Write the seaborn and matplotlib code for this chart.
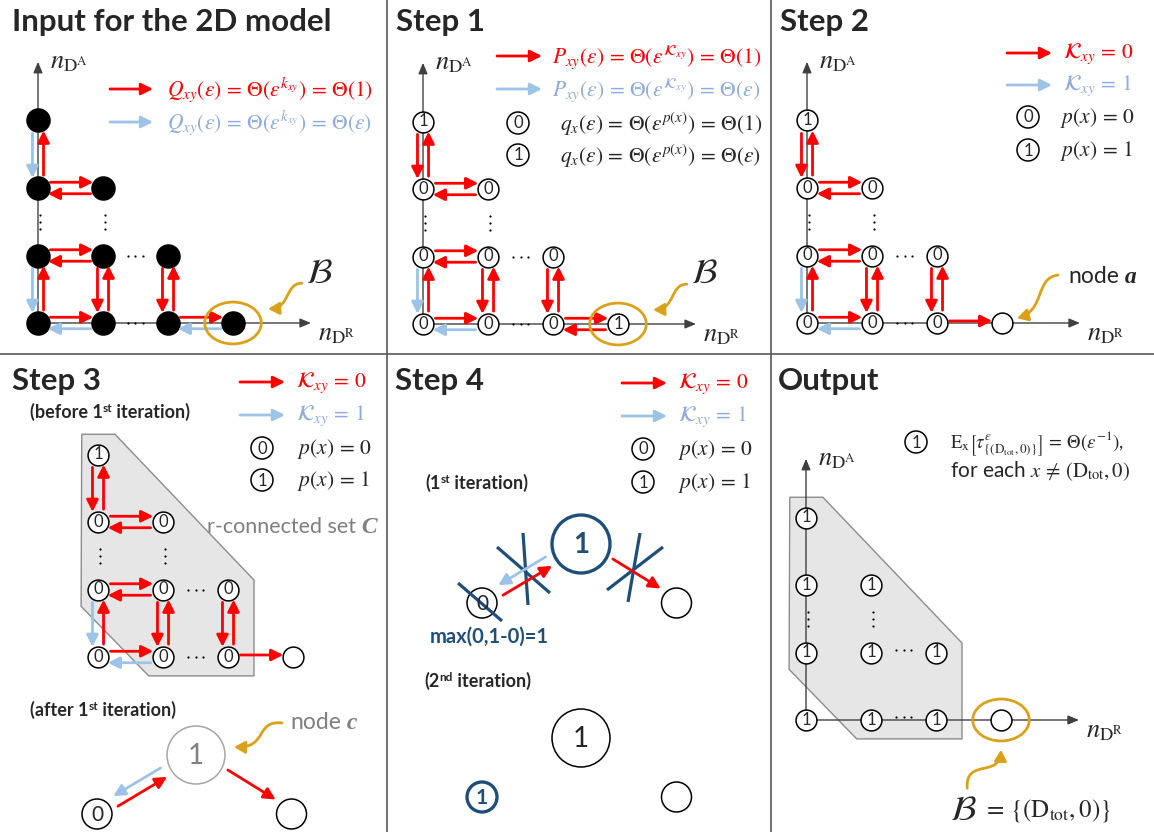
import numpy as np
import pandas as pd
import matplotlib
matplotlib.use("Agg")
import matplotlib.pyplot as plt
import seaborn as sns
from matplotlib.patches import Ellipse, Polygon, Circle, FancyArrowPatch
from matplotlib.path import Path

# ---------------- data ----------------
node_col = [0, 0, 1, 0, 1, 2, 0, 1, 2, 3]
node_row = [3, 2, 2, 1, 1, 1, 0, 0, 0, 0]
labels_step1 = ["1", "0", "0", "0", "0", "0", "0", "0", "0", "1"]
labels_step2 = ["1", "0", "0", "0", "0", "0", "0", "0", "0", ""]
labels_output = ["1", "1", "1", "1", "1", "1", "1", "1", "1", ""]

edge_from = [(0, 3), (0, 2), (0, 1), (0, 1), (1, 1), (2, 1), (0, 0), (2, 0)]
edge_to = [(0, 2), (1, 2), (1, 1), (0, 0), (1, 0), (2, 0), (1, 0), (3, 0)]
fwd_input = ["b", "r", "r", "b", "r", "r", "r", "r"]
bwd_input = ["r", "r", "r", "r", "r", "r", "b", "b"]
fwd_step1 = ["r", "r", "r", "b", "r", "r", "r", "r"]
bwd_step1 = ["r", "r", "r", "r", "r", "r", "b", "r"]
fwd_step2 = ["r", "r", "r", "b", "r", "r", "r", "r"]
bwd_step2 = ["r", "r", "r", "r", "r", "r", "b", None]

vdots_cols = [0, 1]
hdots_rows = [1, 0]

set_poly_col = [-0.25, 0.26, 2.4, 2.4, 0.78, -0.26]
set_poly_row = [3.3, 3.3, 1.14, -0.28, -0.28, 0.75]

panel_titles = ["Input for the 2D model", "Step 1", "Step 2", "Step 3", "Step 4", "Output"]

Q_red = r"$Q_{xy}(\varepsilon)\,=\,\Theta\left(\varepsilon^{k_{xy}}\right)\,=\,\Theta(1)$"
Q_blue = r"$Q_{xy}(\varepsilon)\,=\,\Theta\left(\varepsilon^{k_{xy}}\right)\,=\,\Theta(\varepsilon)$"
P_red = r"$P_{xy}(\varepsilon)\,=\,\Theta\left(\varepsilon^{\mathcal{K}_{xy}}\right)\,=\,\Theta(1)$"
P_blue = r"$P_{xy}(\varepsilon)\,=\,\Theta\left(\varepsilon^{\mathcal{K}_{xy}}\right)\,=\,\Theta(\varepsilon)$"
q0_txt = r"$q_x(\varepsilon)\,=\,\Theta(\varepsilon^{p(x)})\,=\,\Theta(1)$"
q1_txt = r"$q_x(\varepsilon)\,=\,\Theta(\varepsilon^{p(x)})\,=\,\Theta(\varepsilon)$"
K0_txt = r"$\mathcal{K}_{xy}\,=\,0$"
K1_txt = r"$\mathcal{K}_{xy}\,=\,1$"
p0_txt = r"$p(x)\,=\,0$"
p1_txt = r"$p(x)\,=\,1$"
E_txt = r"$\mathrm{E}_{\mathrm{x}}\left[\tau^{\varepsilon}_{\{(\mathrm{D}_{\mathrm{tot}},0)\}}\right]\,=\,\Theta(\varepsilon^{-1})$,"
foreach_txt = r"for each $x\,\neq\,(\mathrm{D}_{\mathrm{tot}},0)$"
Bset_txt = r"$=\,\{(\mathrm{D}_{\mathrm{tot}},0)\}$"
max_txt = "max(0,1-0)=1"

# ---------------- style ----------------
sns.set_theme(style="white")
plt.rcParams["font.family"] = ["Lato", "DejaVu Sans"]
plt.rcParams["mathtext.fontset"] = "stix"

RED = "#FF0000"
BLUE = "#9DC3E6"
BLUE_TXT = "#8FAADC"
GOLD = "#DAA21A"
NAVY = "#1F4E79"
GRAYTXT = "#7F7F7F"
COL = {"r": RED, "b": BLUE}
ARROW = "-|>,head_length=0.5,head_width=0.25"
LEG_FS = 15.5
SUB_FS = 13

W, H = 1154, 832
fig = plt.figure(figsize=(W / 100, H / 100), dpi=100, facecolor="white")
ax0 = fig.add_axes([0, 0, 1, 1])
ax0.set_xlim(0, W)
ax0.set_ylim(H, 0)
ax0.axis("off")
ax0.set_zorder(10)
ax0.patch.set_visible(False)
renderer = fig.canvas.get_renderer()

# dividers
ax0.plot([0, W], [354, 354], color="#595959", lw=1.2)
ax0.plot([387, 387], [0, H], color="#595959", lw=1.2)
ax0.plot([771, 771], [0, H], color="#595959", lw=1.2)

# titles
title_x = [12, 396, 780, 12, 395, 778]
title_y = [31, 31, 31, 390, 390, 390]
for t, x, y in zip(panel_titles, title_x, title_y):
    ax0.text(x, y, t, fontsize=22.5, fontweight="bold", va="baseline", ha="left")


def rich(x, y, pieces):
    for s, kw in pieces:
        kw = dict(kw)
        dy = kw.pop("dy", 0)
        t = ax0.text(x, y + dy, s, va="baseline", ha="left", **kw)
        x += t.get_window_extent(renderer).width


def arrow_legend(x0, x1, xt, y, color, tcolor, label, fs=LEG_FS):
    ax0.annotate("", xy=(x1, y), xytext=(x0, y),
                 arrowprops=dict(arrowstyle=ARROW, color=color, lw=2.0, shrinkA=0,
                                 shrinkB=0, mutation_scale=14))
    ax0.text(xt, y + 1, label, color=tcolor, fontsize=fs, va="center", ha="left")


def node_legend(xc, y, lab, xt, text, fs=LEG_FS):
    ax0.add_patch(Circle((xc, y), 11, facecolor="white", edgecolor="black", lw=1.1))
    ax0.text(xc, y + 0.5, lab, ha="center", va="center", fontsize=12)
    ax0.text(xt, y + 1, text, fontsize=fs, va="center", ha="left")


# ---------------- lattice panels ----------------
SX, SY = 65.0, 67.5
XL, YL = (-0.8, 5.2), (-1.6, 4.2)


def lattice_axes(ox, oy):
    left = ox + XL[0] * SX
    right = ox + XL[1] * SX
    top = oy - YL[1] * SY
    bottom = oy - YL[0] * SY
    ax = fig.add_axes([left / W, 1 - bottom / H, (right - left) / W, (bottom - top) / H])
    ax.set_xlim(*XL)
    ax.set_ylim(*YL)
    ax.axis("off")
    ax.patch.set_visible(False)
    return ax


def draw_axes(ax):
    st = dict(arrowstyle="-|>,head_length=0.6,head_width=0.25", color="#404040", lw=1.0,
              shrinkA=0, shrinkB=0, mutation_scale=11)
    ax.annotate("", xy=(4.2, 0), xytext=(0, 0), arrowprops=st, zorder=1)
    ax.annotate("", xy=(0, 3.87), xytext=(0, 0), arrowprops=st, zorder=1)
    ax.text(0.18, 3.78, r"$n_{\mathrm{D}^{\mathrm{A}}}$", fontsize=19, va="baseline")
    ax.text(4.31, -0.25, r"$n_{\mathrm{D}^{\mathrm{R}}}$", fontsize=19, va="baseline")


def draw_nodes(ax, labels, filled=False):
    df = pd.DataFrame({"col": node_col, "row": node_row, "label": labels})
    sns.scatterplot(data=df, x="col", y="row", ax=ax, s=274 if filled else 225,
                    color="black" if filled else "white", edgecolor="black",
                    linewidth=1.1, legend=False, zorder=3)
    if not filled:
        for c, r, l in zip(df["col"], df["row"], df["label"]):
            if l:
                ax.text(c, r + 0.005, l, ha="center", va="center", fontsize=12, zorder=5)
    ax.set_xlim(*XL)
    ax.set_ylim(*YL)
    ax.axis("off")


def draw_dots(ax, hraise=0.0):
    xs, ys = [], []
    for c in vdots_cols:
        for k in (-1, 0, 1):
            xs.append(c + 0.03)
            ys.append(1.5 + k * 0.105)
    for r in hdots_rows:
        for k in (-1, 0, 1):
            xs.append(1.5 + k * 0.11)
            ys.append(r + hraise)
    ax.scatter(xs, ys, s=2.5, color="black", zorder=3, linewidths=0)


def lattice_arrow(ax, a, b, color, single):
    a = np.array(a, float)
    b = np.array(b, float)
    d = b - a
    u = d / np.hypot(*d)
    off = 0.03 if single else 0.085
    if abs(u[0]) > 0.5:
        n = np.array([0.0, np.sign(u[0])])
    else:
        n = np.array([np.sign(u[1]), 0.0])
    s = a + u * 0.19 + n * off
    e = b - u * 0.15 + n * off
    ax.annotate("", xy=e, xytext=s,
                arrowprops=dict(arrowstyle=ARROW, color=color, lw=2.0, shrinkA=0,
                                shrinkB=0, mutation_scale=14), zorder=4)


def draw_edges(ax, fwd, bwd):
    for a, b, kf, kb in zip(edge_from, edge_to, fwd, bwd):
        if kf is not None:
            lattice_arrow(ax, a, b, COL[kf], kb is None)
        if kb is not None:
            lattice_arrow(ax, b, a, COL[kb], kf is None)


def curly(ax, pts):
    path = Path(pts, [Path.MOVETO, Path.CURVE4, Path.CURVE4, Path.CURVE4])
    ax.add_patch(FancyArrowPatch(path=path, arrowstyle="-|>,head_length=0.5,head_width=0.28",
                                 mutation_scale=13, color=GOLD, lw=2.0, zorder=4))


def boundary_ellipse(ax):
    ax.add_patch(Ellipse((3, 0), 0.87, 0.62, fill=False, edgecolor=GOLD, lw=2.0, zorder=4))


def set_polygon(ax):
    ax.add_patch(Polygon(np.column_stack([set_poly_col, set_poly_row]), closed=True,
                         facecolor="#E7E6E6", edgecolor="#8C8C8C", lw=1.0, zorder=0.5))


# Panel 1: input
axA = lattice_axes(38, 323)
draw_axes(axA)
draw_nodes(axA, [""] * len(node_col), filled=True)
draw_dots(axA)
draw_edges(axA, fwd_input, bwd_input)
boundary_ellipse(axA)
curly(axA, [(4.06, 0.59), (3.8, 0.59), (3.88, 0.22), (3.54, 0.21)])
axA.text(4.33, 0.74, r"$\mathcal{B}$", fontsize=25, ha="center", va="center")
arrow_legend(110, 153, 167, 89, RED, RED, Q_red)
arrow_legend(110, 153, 167, 122, BLUE, BLUE_TXT, Q_blue)

# Panel 2: step 1
axB = lattice_axes(423, 324)
draw_axes(axB)
draw_nodes(axB, labels_step1)
draw_dots(axB)
draw_edges(axB, fwd_step1, bwd_step1)
boundary_ellipse(axB)
curly(axB, [(4.06, 0.59), (3.8, 0.59), (3.88, 0.22), (3.54, 0.21)])
axB.text(4.33, 0.76, r"$\mathcal{B}$", fontsize=25, ha="center", va="center")
arrow_legend(497, 542, 552, 56, RED, RED, P_red)
arrow_legend(497, 542, 552, 89, BLUE, BLUE_TXT, P_blue)
node_legend(518, 123, "0", 560, q0_txt)
node_legend(518, 155, "1", 560, q1_txt)

# Panel 3: step 2
axC = lattice_axes(807, 323)
draw_axes(axC)
draw_nodes(axC, labels_step2)
draw_dots(axC)
draw_edges(axC, fwd_step2, bwd_step2)
curly(axC, [(3.86, 0.71), (3.51, 0.67), (3.66, 0.19), (3.23, 0.07)])
arrow_legend(1007, 1052, 1063, 53, RED, RED, K0_txt)
arrow_legend(1007, 1052, 1063, 85, BLUE, BLUE_TXT, K1_txt)
node_legend(1028, 117, "0", 1060, p0_txt)
node_legend(1028, 150, "1", 1060, p1_txt)
rich(1068, 283, [("node", dict(fontsize=16.5)),
                 (" a", dict(fontsize=17, family="Liberation Serif", weight="bold", style="italic"))])

# Panel 4: step 3
axD = lattice_axes(98, 657)
set_polygon(axD)
draw_nodes(axD, labels_step2)
draw_dots(axD)
draw_edges(axD, fwd_step2, bwd_step2)
arrow_legend(240, 285, 296, 382, RED, RED, K0_txt)
arrow_legend(240, 285, 296, 415, BLUE, BLUE_TXT, K1_txt)
node_legend(262, 448, "0", 297, p0_txt)
node_legend(262, 480, "1", 297, p1_txt)
rich(30, 418, [("(before 1", dict(fontsize=SUB_FS, weight="bold")),
               ("st", dict(fontsize=8.5, weight="bold", dy=-6)),
               (" iteration)", dict(fontsize=SUB_FS, weight="bold"))])
rich(207, 533, [("r-connected set", dict(fontsize=15.5, color=GRAYTXT)),
                (" C", dict(fontsize=17, family="Liberation Serif", weight="bold",
                            style="italic", color=GRAYTXT))])
rich(30, 716, [("(after 1", dict(fontsize=SUB_FS, weight="bold")),
               ("st", dict(fontsize=8.5, weight="bold", dy=-6)),
               (" iteration)", dict(fontsize=SUB_FS, weight="bold"))])
rich(290, 729, [("node", dict(fontsize=16.5, color=GRAYTXT)),
                (" c", dict(fontsize=17, family="Liberation Serif", weight="bold",
                            style="italic", color=GRAYTXT))])

# ---------------- tree diagrams (steps 3 and 4) ----------------
R_ROOT, R_LEAF = 29, 15
LEAF_L, LEAF_R = (-99, 59), (95.5, 59)


def tree_arrow(p_from, r_from, p_to, r_to, off, color, gap=7):
    p_from = np.array(p_from, float)
    p_to = np.array(p_to, float)
    d = p_to - p_from
    u = d / np.hypot(*d)
    n = np.array([-u[1], u[0]])
    s = p_from + u * (r_from + gap) + n * off
    e = p_to - u * (r_to + gap) + n * off
    ax0.annotate("", xy=e, xytext=s,
                 arrowprops=dict(arrowstyle=ARROW, color=color, lw=2.0, shrinkA=0,
                                 shrinkB=0, mutation_scale=14))


def tree_nodes(root, root_ec, root_lw, root_lab, root_kw, left_ec, left_lw, left_lab, left_kw):
    rx, ry = root
    lx, ly = rx + LEAF_L[0], ry + LEAF_L[1]
    qx, qy = rx + LEAF_R[0], ry + LEAF_R[1]
    ax0.add_patch(Circle((rx, ry), R_ROOT, facecolor="white", edgecolor=root_ec, lw=root_lw))
    ax0.text(rx, ry + 1, root_lab, ha="center", va="center", **root_kw)
    ax0.add_patch(Circle((lx, ly), R_LEAF, facecolor="white", edgecolor=left_ec, lw=left_lw))
    ax0.text(lx, ly + 1, left_lab, ha="center", va="center", **left_kw)
    ax0.add_patch(Circle((qx, qy), R_LEAF, facecolor="white", edgecolor="black", lw=1.1))
    return (rx, ry), (lx, ly), (qx, qy)


def tree_arrows(root, left, right):
    tree_arrow(root, R_ROOT, left, R_LEAF, 7, BLUE, gap=8)
    tree_arrow(left, R_LEAF, root, R_ROOT, 4, RED, gap=7)
    tree_arrow(root, R_ROOT, right, R_LEAF, -4, RED, gap=6)


# step 3 after first iteration
r3, l3, q3 = tree_nodes((196, 755), "#A6A6A6", 1.1, "1", dict(fontsize=20, color="#808080"),
                        "black", 1.1, "0", dict(fontsize=15))
tree_arrows(r3, l3, q3)
curly(ax0, [(282, 723), (255, 720), (268, 748), (234, 747)])

# Panel 5: step 4
arrow_legend(622, 667, 678, 383, RED, RED, K0_txt)
arrow_legend(622, 667, 678, 416, BLUE, BLUE_TXT, K1_txt)
node_legend(643, 449, "0", 678, p0_txt)
node_legend(643, 482, "1", 678, p1_txt)
rich(425, 489, [("(1", dict(fontsize=SUB_FS, weight="bold")),
                ("st", dict(fontsize=8.5, weight="bold", dy=-6)),
                (" iteration)", dict(fontsize=SUB_FS, weight="bold"))])
rich(424, 687, [("(2", dict(fontsize=SUB_FS, weight="bold")),
                ("nd", dict(fontsize=8.5, weight="bold", dy=-6)),
                (" iteration)", dict(fontsize=SUB_FS, weight="bold"))])

r4, l4, q4 = tree_nodes((581, 544), NAVY, 2.4, "1", dict(fontsize=20, color=NAVY, weight="bold"),
                        "black", 1.1, "0", dict(fontsize=15))
tree_arrows(r4, l4, q4)
cross_segments = [((-84, 3), (-31, 49)), ((-58, -11), (-53, 61)),
                  ((26, 46), (82, 3)), ((59, -11), (47, 58))]
for (a, b) in cross_segments:
    ax0.plot([r4[0] + a[0], r4[0] + b[0]], [r4[1] + a[1], r4[1] + b[1]], color=NAVY, lw=2.3,
             solid_capstyle="butt")
ax0.plot([l4[0] - 24, l4[0] + 20], [l4[1] - 20, l4[1] + 18], color=NAVY, lw=2.3,
         solid_capstyle="butt")
ax0.text(430, 643, max_txt, fontsize=14.5, weight="bold", color=NAVY, ha="left", va="baseline")

r5, l5, q5 = tree_nodes((581, 738), "black", 1.1, "1", dict(fontsize=20),
                        NAVY, 2.4, "1", dict(fontsize=15, color=NAVY, weight="bold"))

# Panel 6: output
axF = lattice_axes(806, 720)
set_polygon(axF)
draw_axes(axF)
draw_nodes(axF, labels_output)
draw_dots(axF, hraise=0.04)
boundary_ellipse(axF)
curly(axF, [(2.48, -1.01), (2.45, -0.56), (2.98, -0.86), (3.0, -0.44)])
node_legend(916, 442, "1", 950, "")
ax0.text(950, 448, E_txt, fontsize=13.5, ha="left", va="baseline")
ax0.text(950, 477, foreach_txt, fontsize=15, ha="left", va="baseline")
ax0.text(963, 810, r"$\mathcal{B}$", fontsize=25, ha="center", va="center")
ax0.text(983, 816, Bset_txt, fontsize=18, ha="left", va="baseline")

fig.savefig("out.png", dpi=100, facecolor="white")
